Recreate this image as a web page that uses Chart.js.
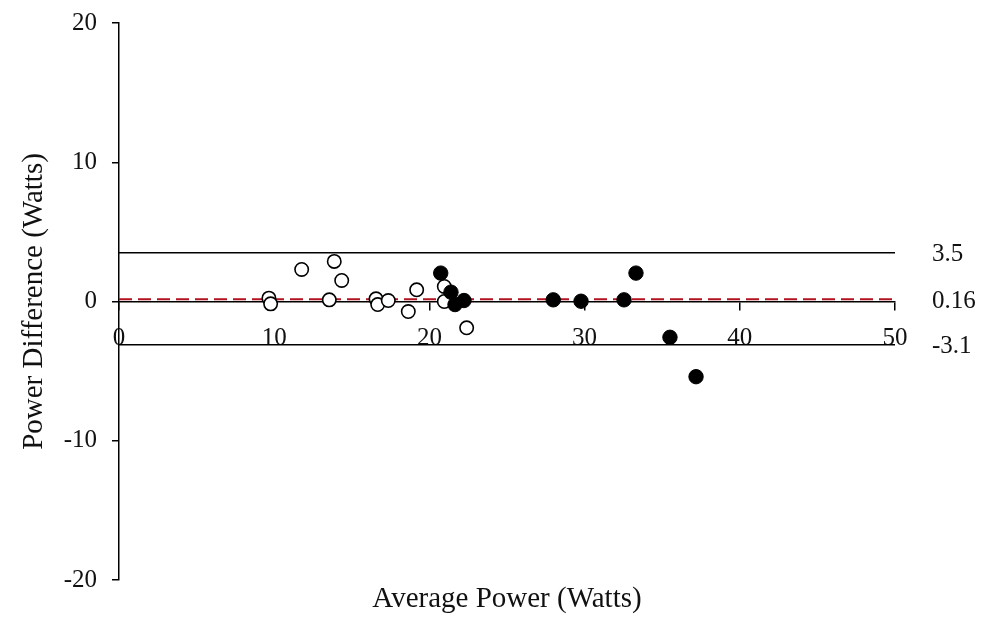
<!DOCTYPE html>
<html>
<head>
<meta charset="utf-8">
<script src="https://cdn.jsdelivr.net/npm/chart.js@4/dist/chart.umd.min.js"></script>
<style>
  html, body { margin: 0; padding: 0; background: #fff; }
  #wrap { width: 987px; height: 619px; }
</style>
</head>
<body>
<div id="wrap"><canvas id="bland" width="987" height="619"></canvas></div>
<script>
// open circles
const openAvg = [9.66, 9.77, 11.77, 13.55, 13.87, 14.35, 16.56, 16.67, 17.35, 18.64, 19.18, 20.96, 20.96, 22.40];
const openDiff = [0.24, -0.17, 2.30, 0.12, 2.88, 1.51, 0.19, -0.22, 0.07, -0.72, 0.84, 1.08, 0.00, -1.89];

// filled circles
const filledAvg = [20.73, 21.39, 21.65, 22.23, 27.98, 29.77, 32.54, 33.31, 35.50, 37.18];
const filledDiff = [2.04, 0.67, -0.22, 0.07, 0.12, 0.02, 0.12, 2.04, -2.57, -5.40];

// bias and limits of agreement
const upperLimit = 3.5;
const meanBias = 0.16;
const lowerLimit = -3.1;

const xTicks = [0, 10, 20, 30, 40, 50];
const yTicks = [-20, -10, 0, 10, 20];

const SERIF = '"Liberation Serif", "Times New Roman", serif';
const RED = '#b3121f';

const pts = (xs, ys) => xs.map((x, i) => ({ x, y: ys[i] }));
const hline = (v) => [{ x: xTicks[0], y: v }, { x: xTicks[xTicks.length - 1], y: v }];

const limitLabels = {
  id: 'limitLabels',
  afterDraw(chart) {
    const { ctx, chartArea, scales } = chart;
    ctx.save();
    ctx.font = '25px ' + SERIF;
    ctx.fillStyle = '#111';
    ctx.textAlign = 'left';
    ctx.textBaseline = 'middle';
    [upperLimit, meanBias, lowerLimit].forEach(v => {
      ctx.fillText(String(v), chartArea.right + 37, scales.y.getPixelForValue(v) + 2);
    });
    ctx.restore();
  },
};

new Chart(document.getElementById('bland'), {
  type: 'scatter',
  data: {
    datasets: [
      {
        data: pts(filledAvg, filledDiff),
        backgroundColor: '#000',
        borderColor: '#000',
        borderWidth: 1,
        pointRadius: 7.2,
        order: 0,
      },
      {
        data: pts(openAvg, openDiff),
        backgroundColor: '#fff',
        borderColor: '#000',
        borderWidth: 1.6,
        pointRadius: 6.7,
        order: 1,
      },
      {
        type: 'line',
        data: hline(meanBias),
        borderColor: RED,
        borderWidth: 2,
        borderDash: [13, 6],
        pointRadius: 0,
        order: 2,
      },
      {
        type: 'line',
        data: hline(upperLimit),
        borderColor: '#000',
        borderWidth: 1.5,
        pointRadius: 0,
        order: 3,
      },
      {
        type: 'line',
        data: hline(lowerLimit),
        borderColor: '#000',
        borderWidth: 1.5,
        pointRadius: 0,
        order: 3,
      },
    ],
  },
  options: {
    responsive: false,
    animation: false,
    layout: { padding: { left: 0, right: 92, top: 23, bottom: 0 } },
    plugins: {
      legend: { display: false },
      tooltip: { enabled: false },
    },
    scales: {
      x: {
        type: 'linear',
        position: { y: 0 },
        min: 0,
        max: 50,
        afterBuildTicks: (s) => { s.ticks = xTicks.map(v => ({ value: v })); },
        border: { color: '#000', width: 1.5 },
        grid: { drawOnChartArea: false, color: '#000', tickLength: 8, lineWidth: 1.5 },
        ticks: { color: '#111', padding: 14, maxRotation: 0, font: { family: SERIF, size: 25 } },
      },
      xTitle: {
        type: 'linear',
        axis: 'x',
        position: 'bottom',
        ticks: { display: false },
        grid: { display: false },
        border: { display: false },
        title: {
          display: true,
          text: 'Average Power (Watts)',
          color: '#111',
          padding: { top: 0, bottom: 2 },
          font: { family: SERIF, size: 29 },
        },
        afterFit: (s) => { s.height = 39; },
      },
      y: {
        type: 'linear',
        position: 'left',
        min: -20,
        max: 20,
        afterBuildTicks: (s) => { s.ticks = yTicks.map(v => ({ value: v })); },
        border: { color: '#000', width: 1.5 },
        grid: { drawOnChartArea: false, color: '#000', tickLength: 7, lineWidth: 1.5 },
        ticks: { color: '#111', padding: 15, font: { family: SERIF, size: 25 } },
        title: {
          display: true,
          text: 'Power Difference (Watts)',
          color: '#111',
          padding: { top: 17, bottom: 0 },
          font: { family: SERIF, size: 29 },
        },
        afterFit: (s) => {
          s.width = 119;
          // labels fit inside the margins, keep the plot edges fixed
          s.paddingTop = 0;
          s.paddingBottom = 0;
        },
      },
    },
  },
  plugins: [limitLabels],
});
</script>
</body>
</html>
